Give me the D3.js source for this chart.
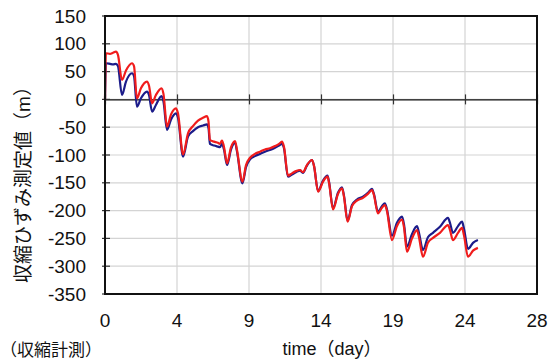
<!DOCTYPE html>
<html lang="ja">
<head>
  <meta charset="UTF-8">
  <title>shrinkage</title>
  <script src="https://d3js.org/d3.v7.min.js"></script>
  <style>
    body { margin: 0; background: #fff; }
    text { font-family: "Liberation Sans", Arial, "Noto Sans CJK JP", sans-serif; fill: #111; }
  </style>
</head>
<body>
<script>
  const WIDTH = 556;
  const HEIGHT = 361;

  // time axis (day) and readings
  const times = [0, 0.06, 0.32, 0.52, 0.71, 0.84, 1.10, 1.36, 1.75, 1.88, 2.07, 2.33, 2.72, 2.85,
    3.05, 3.30, 3.66, 3.79, 4.02, 4.28, 4.60, 4.73, 5.06, 5.38, 5.70, 6.03, 6.35, 6.61, 6.71,
    6.80, 7.07, 7.32, 7.45, 7.58, 7.71, 7.91, 8.17, 8.43, 8.55, 8.91, 9.14, 9.40, 9.72, 10.05,
    10.37, 10.69, 11.02, 11.28, 11.47, 11.60, 11.86, 12.12, 12.38, 12.64, 12.83, 13.09, 13.42,
    13.55, 13.81, 14.13, 14.42, 14.52, 14.78, 15.10, 15.36, 15.49, 15.72, 16.01, 16.33, 16.72,
    17.04, 17.30, 17.43, 17.69, 17.95, 18.14, 18.27, 18.60, 18.92, 19.25, 19.38, 19.57, 19.90,
    20.22, 20.35, 20.61, 20.93, 21.26, 21.71, 22.23, 22.36, 22.55, 22.88, 23.14, 23.27, 23.53,
    23.85, 24.17];

  const blueValues = [0, 65, 64, 63, 64, 60, 8, 32, 47, 42, -13, 2, 14, 8,
    -22, -10, 6, -4, -55, -36, -25, -33, -103, -67, -57, -50, -47, -45, -52,
    -80, -83, -85, -86, -80, -90, -118, -90, -78, -93, -151, -122, -108, -102, -98,
    -94, -91, -87, -83, -80, -88, -139, -135, -131, -128, -132, -119, -109,
    -120, -165, -146, -137, -148, -196, -168, -158, -173, -218, -190, -180, -175,
    -168, -161, -170, -202, -192, -187, -197, -245, -222, -211, -225, -265, -242,
    -228, -240, -271, -248, -240, -229, -213, -222, -240, -228, -220, -233, -269,
    -258, -253];

  const redValues = [0, 83, 82, 84, 86, 80, 35, 52, 65, 60, 2, 20, 32, 25,
    -7, 8, 20, 10, -49, -27, -16, -25, -99, -61, -48, -38, -33, -30, -40,
    -73, -76, -78, -80, -74, -85, -115, -86, -75, -90, -148, -118, -105, -98, -94,
    -90, -88, -84, -80, -76, -85, -137, -133, -129, -127, -131, -118, -109,
    -120, -166, -148, -139, -150, -198, -170, -160, -175, -220, -192, -182, -177,
    -170, -163, -172, -205, -195, -190, -200, -253, -228, -216, -230, -274, -250,
    -235, -248, -283, -258, -249, -240, -226, -235, -253, -240, -231, -245, -283,
    -272, -267];

  const xTicks = [0, 4.667, 9.333, 14, 18.667, 23.333, 28];
  const xTickLabels = ['0', '4', '9', '14', '19', '24', '28'];
  const yTicks = [150, 100, 50, 0, -50, -100, -150, -200, -250, -300, -350];

  const plotLeft = 105, plotRight = 537, plotTop = 16, plotBottom = 294;

  const x = d3.scaleLinear().domain([0, 28]).range([plotLeft, plotRight]);
  const y = d3.scaleLinear().domain([-350, 150]).range([plotBottom, plotTop]);

  const svg = d3.select('body')
    .append('svg')
    .attr('width', WIDTH)
    .attr('height', HEIGHT);

  // grid
  svg.append('g')
    .selectAll('line')
    .data(yTicks)
    .enter()
    .append('line')
    .attr('x1', plotLeft).attr('x2', plotRight)
    .attr('y1', d => y(d)).attr('y2', d => y(d))
    .attr('stroke', '#d4d4d4')
    .attr('stroke-width', 1.2);

  svg.append('g')
    .selectAll('line')
    .data(xTicks)
    .enter()
    .append('line')
    .attr('x1', d => x(d)).attr('x2', d => x(d))
    .attr('y1', plotTop).attr('y2', plotBottom)
    .attr('stroke', '#d4d4d4')
    .attr('stroke-width', 1.2);

  // x axis sitting on zero, ticks crossing it
  const xAxis = d3.axisBottom(x)
    .tickValues(xTicks)
    .tickSizeInner(0)
    .tickSizeOuter(0)
    .tickFormat('');
  const zeroAxis = svg.append('g')
    .attr('transform', `translate(0, ${y(0)})`)
    .call(xAxis);
  zeroAxis.select('.domain').attr('stroke', '#111').attr('stroke-width', 1.2);
  zeroAxis.selectAll('.tick line')
    .attr('y1', -5).attr('y2', 5)
    .attr('stroke', '#333').attr('stroke-width', 1.2);

  // y axis ticks crossing the left frame
  svg.append('g')
    .selectAll('line')
    .data(yTicks)
    .enter()
    .append('line')
    .attr('x1', plotLeft - 3).attr('x2', plotLeft + 5)
    .attr('y1', d => y(d)).attr('y2', d => y(d))
    .attr('stroke', '#333')
    .attr('stroke-width', 1.2);

  // series
  const line = d3.line()
    .x((d, i) => x(times[i]))
    .y(d => y(d))
    .curve(d3.curveMonotoneX);

  svg.append('path')
    .datum(blueValues)
    .attr('d', line)
    .attr('fill', 'none')
    .attr('stroke', '#1c1c8a')
    .attr('stroke-width', 2.2)
    .attr('stroke-linejoin', 'round');

  svg.append('path')
    .datum(redValues)
    .attr('d', line)
    .attr('fill', 'none')
    .attr('stroke', '#f01c1c')
    .attr('stroke-width', 2.2)
    .attr('stroke-linejoin', 'round');

  // frame
  svg.append('rect')
    .attr('x', plotLeft).attr('y', plotTop)
    .attr('width', plotRight - plotLeft).attr('height', plotBottom - plotTop)
    .attr('fill', 'none')
    .attr('stroke', '#111')
    .attr('stroke-width', 2);

  // tick labels
  svg.append('g')
    .selectAll('text')
    .data(yTicks)
    .enter()
    .append('text')
    .attr('x', 86)
    .attr('y', d => y(d))
    .attr('dy', '0.35em')
    .attr('text-anchor', 'end')
    .attr('font-size', 19)
    .text(d => d);

  svg.append('g')
    .selectAll('text')
    .data(xTicks)
    .enter()
    .append('text')
    .attr('x', d => x(d))
    .attr('y', 327)
    .attr('text-anchor', 'middle')
    .attr('font-size', 19)
    .text((d, i) => xTickLabels[i]);

  // titles
  svg.append('text')
    .attr('x', 332)
    .attr('y', 355)
    .attr('text-anchor', 'middle')
    .attr('font-size', 18)
    .text('time（day）');

  svg.append('text')
    .attr('transform', 'translate(30, 180) rotate(-90)')
    .attr('text-anchor', 'middle')
    .attr('font-size', 19)
    .text('収縮ひずみ測定値（m）');

  svg.append('text')
    .attr('x', 0)
    .attr('y', 356)
    .attr('font-size', 17)
    .text('（収縮計測）');
</script>
</body>
</html>
